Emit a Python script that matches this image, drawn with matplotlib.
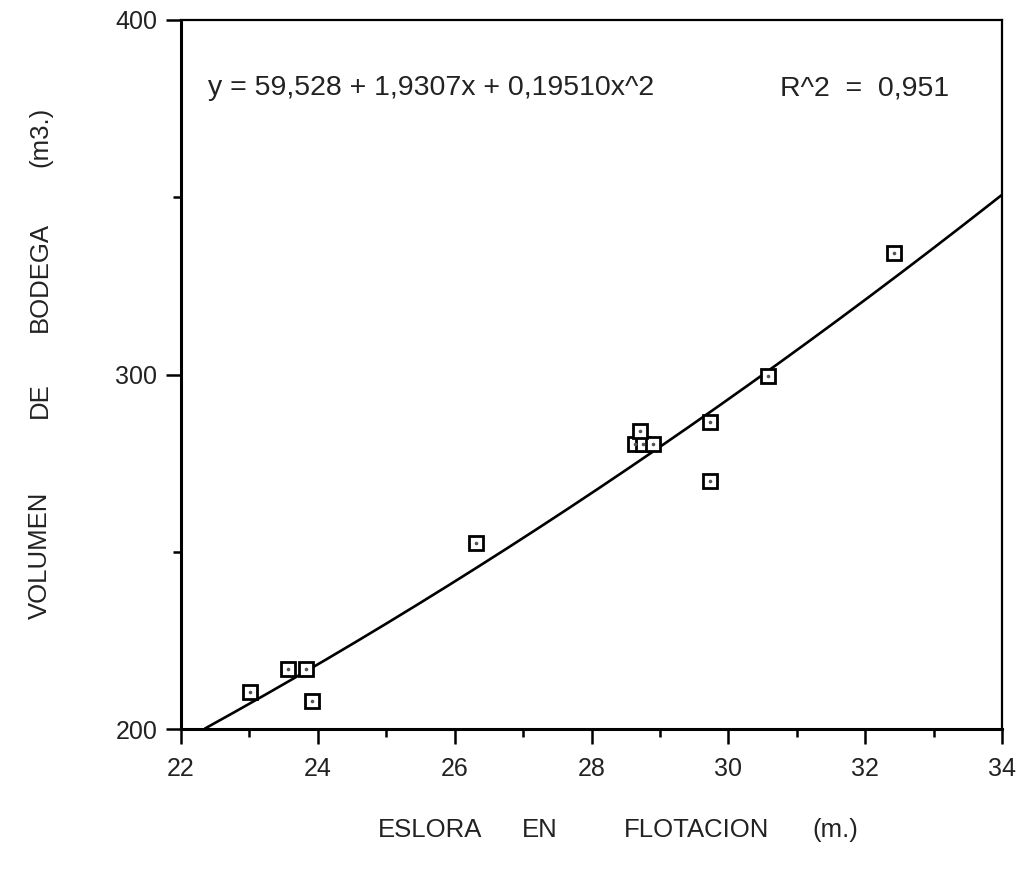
import numpy as np
import matplotlib
matplotlib.use("Agg")
from matplotlib import pyplot as plt

plt.rcParams["font.family"] = ["Liberation Sans", "DejaVu Sans"]

# eslora en flotacion (m.) vs volumen de bodega (m3.)
eslora = [23.01, 23.56, 23.83, 23.92, 26.31, 28.64, 28.75, 28.90, 28.71, 29.73, 29.73, 30.58, 32.42]
volumen = [210.4, 216.9, 216.9, 207.9, 252.5, 280.4, 280.4, 280.4, 284.1, 286.6, 270.0, 299.6, 334.3]

# fitted polynomial shown in the chart
coef_a, coef_b, coef_c = 59.528, 1.9307, 0.19510
eq_text = "y = 59,528 + 1,9307x + 0,19510x^2"
r2_text = "R^2  =  0,951"

x_ticks = [22, 24, 26, 28, 30, 32, 34]
y_ticks = [200, 300, 400]

xlabel_words = ["ESLORA", "EN", "FLOTACION", "(m.)"]
ylabel_words = ["VOLUMEN", "DE", "BODEGA", "(m3.)"]

fig = plt.figure(figsize=(10.29, 8.81), dpi=100)
ax = fig.add_axes([0.1759, 0.1725, 0.7979, 0.8048])

xs = np.linspace(22, 34, 300)
ys = coef_a + coef_b * xs + coef_c * xs ** 2
keep = ys >= 200
ax.plot(xs[keep], ys[keep], color="black", lw=1.9)

ax.plot(eslora, volumen, ls="none", marker="s", ms=10, mfc="white", mec="black", mew=2)
ax.plot(eslora, volumen, ls="none", marker="o", ms=1.6, color="#555555")

ax.set_xlim(22, 34)
ax.set_ylim(200, 400)
ax.set_xticks(x_ticks)
ax.set_xticks(range(23, 34, 2), minor=True)
ax.set_yticks(y_ticks)
ax.set_yticks([250, 350], minor=True)
ax.tick_params(axis="both", which="major", direction="out", length=11, width=1.8,
               labelsize=18, colors="black")
ax.tick_params(axis="both", which="minor", direction="out", length=6, width=1.8)
ax.tick_params(axis="x", pad=9)
ax.tick_params(axis="y", pad=6)
for lab in ax.get_xticklabels() + ax.get_yticklabels():
    lab.set_color("#222222")
for side in ["left", "bottom"]:
    ax.spines[side].set_linewidth(2.2)
for side in ["top", "right"]:
    ax.spines[side].set_linewidth(1.6)

ax.text(0.033, 0.904, eq_text, transform=ax.transAxes, fontsize=20.5, color="#222222", va="center")
ax.text(0.73, 0.904, r2_text, transform=ax.transAxes, fontsize=20.5, color="#222222", va="center")

# axis titles, words spread out like the original typewriter layout
for word, px in zip(xlabel_words, [430, 540, 697, 835]):
    fig.text(px / 1029, 1 - 830 / 881, word, ha="center", va="center",
             fontsize=18.5, color="#222222")
for word, py in zip(ylabel_words, [555, 400, 277, 137]):
    fig.text(40 / 1029, 1 - py / 881, word, ha="center", va="center",
             rotation=90, fontsize=18.5, color="#222222")

plt.savefig("out.png", dpi=100)
